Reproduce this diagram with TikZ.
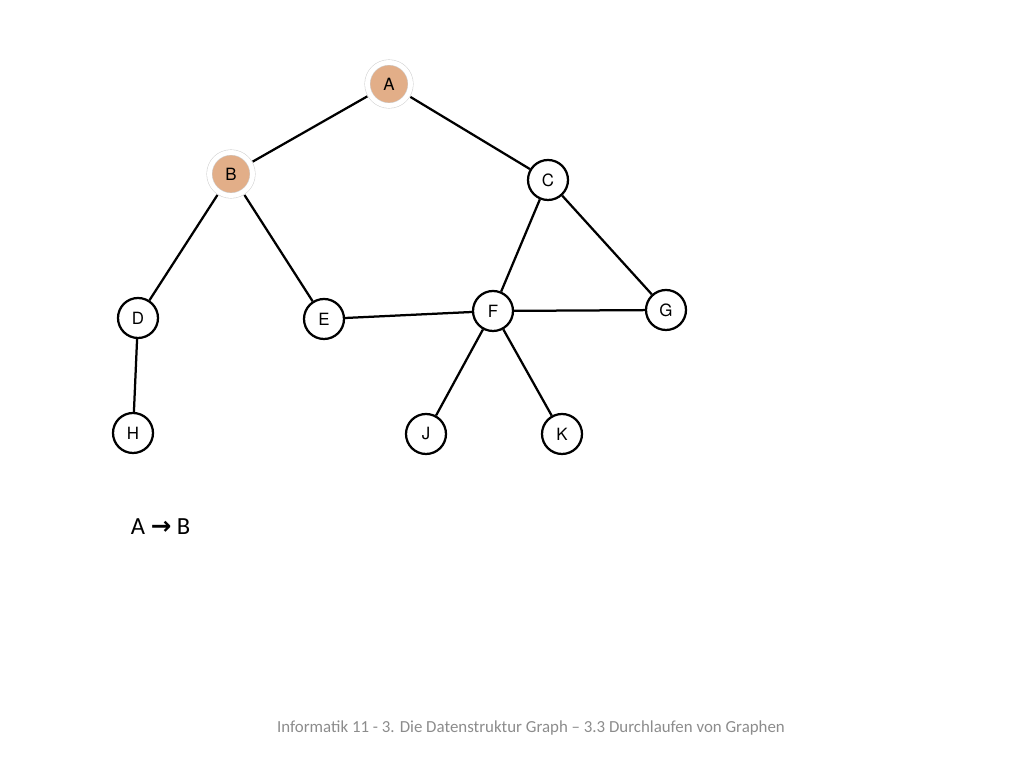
\documentclass[tikz,border=0pt]{standalone}
\usepackage{fontspec}
\setmainfont{Carlito}
\newfontfamily\knotfont{TeX Gyre Heros}
\newfontfamily\arrowfont{DejaVu Sans}
\usepackage{tikz}
\usetikzlibrary{calc}

\definecolor{visitfill}{RGB}{226,174,136}
\definecolor{footgray}{RGB}{140,140,140}

\tikzset{
    knot/.style={circle, draw, line width=1.6pt, fill=white, minimum size=1cm,
        inner sep=0pt, font=\knotfont\fontsize{12}{14}\selectfont},
    visited/.style={knot, fill=visitfill, draw=gray!35, line width=0.4pt,
        double=white, double distance=3.4pt, minimum size=1.08cm, outer sep=2.4pt},
    edge/.style={line width=1.6pt}
}

\begin{document}
\begin{tikzpicture}
                \useasboundingbox (0,0) rectangle (25.6,19.2);

                % nodes
                \node[visited] (A) at (9.725,17.1) {A};
                \node[visited] (B) at (5.775,14.85) {B};
                \node[knot] (C) at (13.7,14.7) {C};
                \node[knot] (D) at (3.45,11.25) {D};
                \node[knot] (E) at (8.1,11.225) {E};
                \node[knot] (F) at (12.325,11.425) {F};
                \node[knot] (G) at (16.65,11.45) {G};
                \node[knot] (H) at (3.325,8.375) {H};
                \node[knot] (J) at (10.65,8.35) {J};
                \node[knot] (K) at (14.05,8.35) {K};

                % edges
                \draw[edge] (A)--(B);
                \draw[edge] (A)--(C);
                \draw[edge] (B)--(D);
                \draw[edge] (B)--(E);
                \draw[edge] (C)--(F);
                \draw[edge] (C)--(G);
                \draw[edge] (D)--(H);
                \draw[edge] (E)--(F);
                \draw[edge] (F)--(G);
                \draw[edge] (F)--(J);
                \draw[edge] (F)--(K);

                % order of visits
                \node[anchor=west, font=\fontsize{17.5}{20}\selectfont] (order) at (3.15,6.025)
                    {A {\arrowfont\bfseries →} B};

                % footer
                \node[text=footgray, font=\fontsize{12}{14}\selectfont] (footer) at (13.275,1.0)
                    {Informatik 11 - 3. Die Datenstruktur Graph – 3.3 Durchlaufen von Graphen};
            \end{tikzpicture}
\end{document}
